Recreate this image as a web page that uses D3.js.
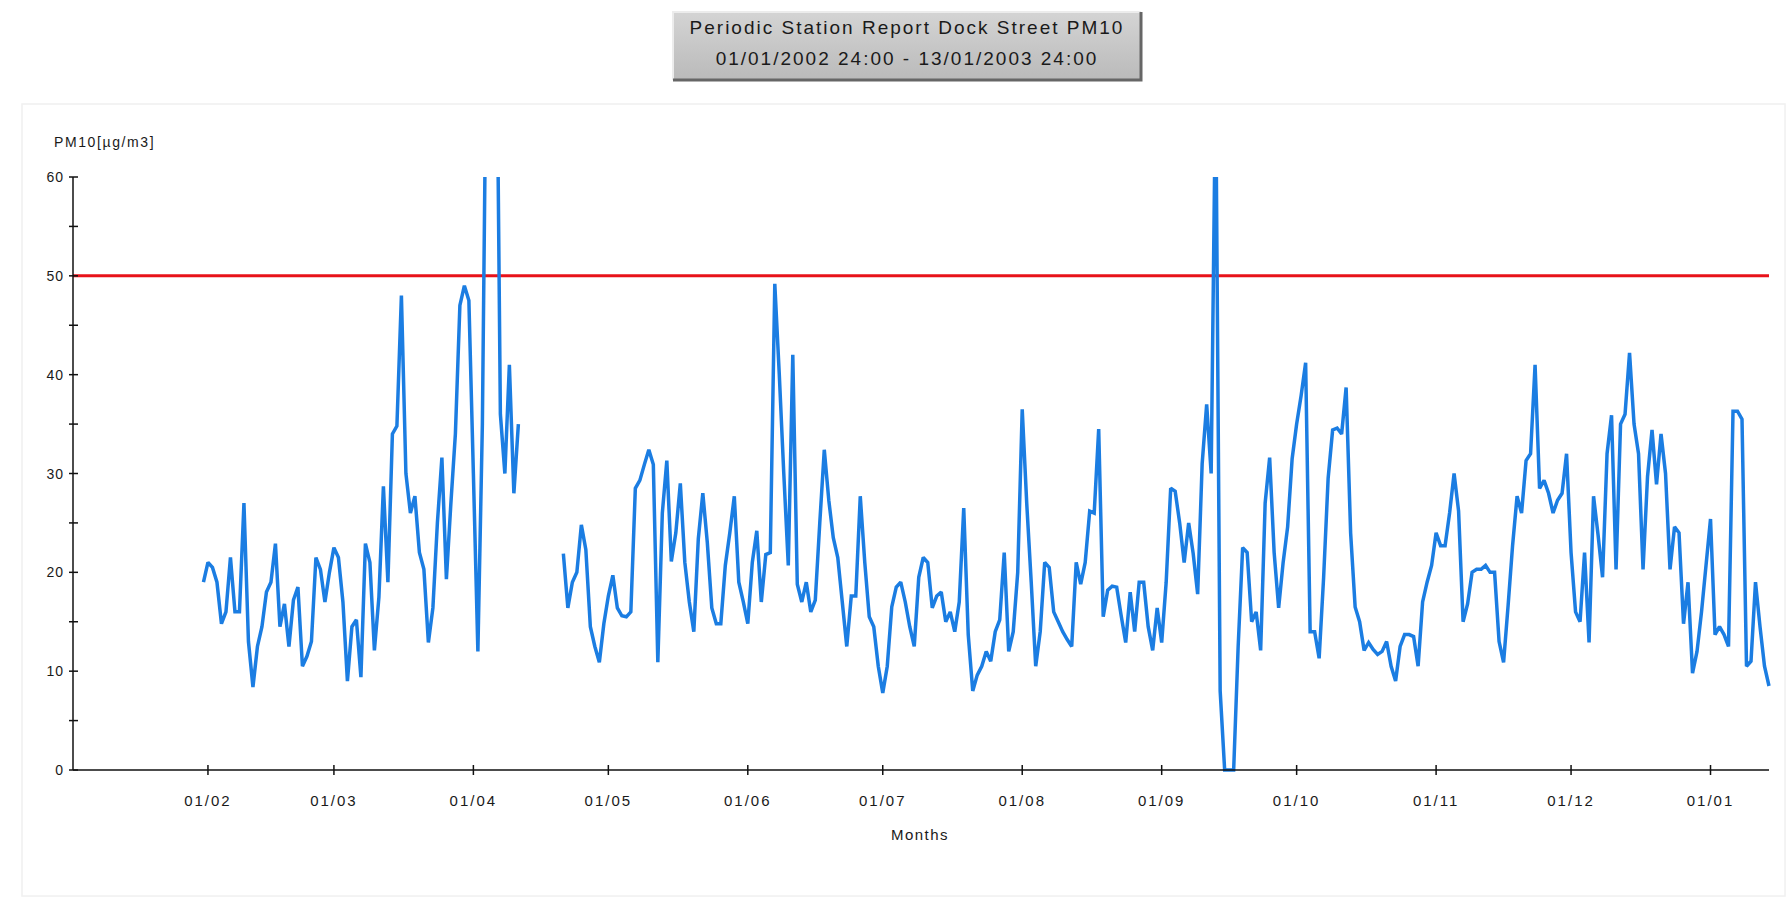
<!DOCTYPE html>
<html>
<head>
<meta charset="utf-8">
<script src="https://cdn.jsdelivr.net/npm/d3@7"></script>
<style>
  html, body { margin: 0; padding: 0; background: #ffffff; }
  svg { display: block; }
  text { font-family: "Liberation Sans", Arial, Helvetica, sans-serif; fill: #1a1a1a; }
</style>
</head>
<body>
<svg id="chart" width="1789" height="911"></svg>
<script>
// Daily mean PM10 at Dock Street, in µg/m3.
// First run of readings starts 31 Jan 2002, the second 21 Apr 2002 (gap in between).
const runStarts = ["2002-01-31", "2002-04-21"];

const pm10RunA = [
  19, 21, 20.5, 19, 14.8, 16, 21.5, 16, 16, 27,
  13, 8.4, 12.5, 14.5, 18, 19, 22.9, 14.5, 16.8, 12.5,
  17.2, 18.5, 10.5, 11.5, 13, 21.5, 20.3, 17, 20, 22.5,
  21.5, 17, 9, 14.5, 15.2, 9.4, 22.9, 21, 12.1, 17.5,
  28.7, 19, 34, 34.8, 48, 30, 26, 27.7, 22, 20.3,
  12.9, 16.4, 25, 31.6, 19.3, 27, 34, 47, 49, 47.5,
  30, 12, 35, 80, 90, 85, 36, 30, 41, 28,
  35
];

const pm10RunB = [
  21.9, 16.4, 19, 20, 24.8, 22.3, 14.5, 12.5, 10.9, 14.8,
  17.6, 19.7, 16.4, 15.6, 15.5, 16, 28.5, 29.3, 30.9, 32.4,
  30.9, 10.9, 26, 31.3, 21.1, 24, 29, 21, 17, 14,
  23.4, 28, 23, 16.4, 14.8, 14.8, 20.7, 24, 27.7, 19,
  17, 14.8, 21, 24.2, 17, 21.8, 22, 49.2, 40, 30,
  20.7, 42, 18.8, 17, 19, 16, 17.2, 25, 32.4, 27.3,
  23.5, 21.5, 17, 12.5, 17.6, 17.6, 27.7, 21, 15.5, 14.5,
  10.5, 7.8, 10.5, 16.5, 18.5, 19, 17, 14.5, 12.5, 19.5,
  21.5, 21, 16.4, 17.6, 18, 15, 16, 14, 17, 26.5,
  13.7, 8, 9.6, 10.5, 12, 11, 14, 15.2, 22, 12,
  14, 20, 36.5, 27, 19, 10.5, 14, 21, 20.5, 16,
  15, 14, 13.2, 12.5, 21, 18.8, 21, 26.2, 26, 34.5,
  15.5, 18.2, 18.6, 18.5, 15.6, 12.9, 18, 14, 19, 19,
  14.5, 12.1, 16.4, 12.9, 19, 28.5, 28.2, 25, 21, 25,
  21.9, 17.8, 31, 37, 30, 70, 8, 0, 0, 0,
  12.5, 22.5, 22, 15, 16, 12.1, 27, 31.6, 22, 16.4,
  21, 24.6, 31.5, 35, 37.9, 41.2, 14, 14, 11.3, 19.5,
  29.5, 34.4, 34.6, 34, 38.7, 24, 16.5, 15, 12.1, 12.9,
  12.2, 11.7, 12, 13, 10.5, 9, 12.5, 13.7, 13.7, 13.5,
  10.5, 17, 19, 20.7, 24, 22.7, 22.7, 26, 30, 26.2,
  15, 16.8, 20, 20.3, 20.3, 20.7, 20, 20, 13, 10.9,
  16.6, 22.7, 27.7, 26, 31.3, 32, 41, 28.5, 29.3, 28,
  26, 27.3, 28, 32, 22, 16, 15, 22, 12.9, 27.7,
  23.8, 19.5, 32, 35.9, 20.3, 35, 36, 42.2, 35, 32,
  20.3, 29.7, 34.4, 28.9, 34, 30, 20.3, 24.6, 24, 14.8,
  19, 9.8, 12, 16, 20.7, 25.4, 13.7, 14.5, 13.7, 12.5,
  36.3, 36.3, 35.5, 10.5, 11, 19, 14.5, 10.5, 8.5
];

const limitValue = 50;                       // daily PM10 limit value
const yTicks = [0, 10, 20, 30, 40, 50, 60];
const yMinorTicks = [5, 15, 25, 35, 45, 55];
const monthTicks = ["2002-02-01", "2002-03-01", "2002-04-01", "2002-05-01", "2002-06-01",
  "2002-07-01", "2002-08-01", "2002-09-01", "2002-10-01", "2002-11-01", "2002-12-01", "2003-01-01"];
const period = ["2002-01-02", "2003-01-14"];   // 01/01/2002 24:00 – 13/01/2003 24:00

const titleLines = ["Periodic Station Report Dock Street PM10", "01/01/2002 24:00 - 13/01/2003 24:00"];
const yLabel = "PM10[µg/m3]";
const xLabel = "Months";

const parse = d3.utcParse("%Y-%m-%d");
const fmtMonth = d3.utcFormat("%d/%m");

const svg = d3.select("#chart");
const W = 1789, H = 911;
const plot = { left: 73, right: 1769, top: 177, bottom: 770 };

const x = d3.scaleUtc().domain(period.map(parse)).range([plot.left, plot.right]);
const y = d3.scaleLinear().domain([0, 60]).range([plot.bottom, plot.top]);

// Build the dated series for each run of readings
const runs = [pm10RunA, pm10RunB].map((vals, i) => {
  const start = parse(runStarts[i]);
  return vals.map((v, k) => ({ date: d3.utcDay.offset(start, k), value: v }));
});

// Faint outer panel
svg.append("rect")
  .attr("x", 22).attr("y", 104).attr("width", W - 26).attr("height", 792)
  .attr("fill", "none").attr("stroke", "#f0f0f0").attr("stroke-width", 1.5);

// Title box with bevelled edges
const defs = svg.append("defs");
const grad = defs.append("linearGradient").attr("id", "titleFill").attr("x1", 0).attr("y1", 0).attr("x2", 0).attr("y2", 1);
grad.append("stop").attr("offset", "0%").attr("stop-color", "#d4d4d4");
grad.append("stop").attr("offset", "100%").attr("stop-color", "#bababa");

const tb = { x: 673, y: 12, w: 468, h: 68 };
const title = svg.append("g");
title.append("rect").attr("x", tb.x).attr("y", tb.y).attr("width", tb.w).attr("height", tb.h)
  .attr("fill", "url(#titleFill)");
title.append("path")
  .attr("d", `M${tb.x},${tb.y + tb.h} L${tb.x},${tb.y} L${tb.x + tb.w},${tb.y}`)
  .attr("fill", "none").attr("stroke", "#ececec").attr("stroke-width", 2);
title.append("path")
  .attr("d", `M${tb.x + tb.w},${tb.y} L${tb.x + tb.w},${tb.y + tb.h} L${tb.x},${tb.y + tb.h}`)
  .attr("fill", "none").attr("stroke", "#666666").attr("stroke-width", 3);
title.selectAll("text.title").data(titleLines).join("text")
  .attr("class", "title")
  .attr("x", tb.x + tb.w / 2)
  .attr("y", (d, i) => tb.y + 22 + i * 31)
  .attr("text-anchor", "middle")
  .style("font-size", "19px")
  .style("letter-spacing", "2px")
  .text(d => d);

// Clip the series at the top of the value range
defs.append("clipPath").attr("id", "plotClip")
  .append("rect").attr("x", plot.left).attr("y", plot.top)
  .attr("width", plot.right - plot.left + 5).attr("height", plot.bottom - plot.top + 10);

// Limit line
svg.append("line")
  .attr("x1", plot.left).attr("x2", plot.right)
  .attr("y1", y(limitValue)).attr("y2", y(limitValue))
  .attr("stroke", "#e8121a").attr("stroke-width", 3);

// PM10 series
const line = d3.line().x(d => x(d.date)).y(d => y(d.value));
svg.append("g").attr("clip-path", "url(#plotClip)")
  .selectAll("path").data(runs).join("path")
  .attr("d", line)
  .attr("fill", "none")
  .attr("stroke", "#1b7de2")
  .attr("stroke-width", 3.5)
  .attr("stroke-linejoin", "miter")
  .attr("stroke-miterlimit", 2);

// Y axis
const yAxis = svg.append("g");
yAxis.append("line").attr("x1", plot.left).attr("x2", plot.left)
  .attr("y1", y(60)).attr("y2", y(0)).attr("stroke", "#111").attr("stroke-width", 1.5);
yAxis.selectAll("line.tick").data(yTicks.concat(yMinorTicks)).join("line")
  .attr("class", "tick")
  .attr("x1", plot.left - 4).attr("x2", plot.left + 5)
  .attr("y1", d => y(d)).attr("y2", d => y(d))
  .attr("stroke", "#111").attr("stroke-width", 1.5);
yAxis.selectAll("text").data(yTicks).join("text")
  .attr("x", plot.left - 9).attr("y", d => y(d) + 5)
  .attr("text-anchor", "end")
  .style("font-size", "14px").style("letter-spacing", "1px")
  .text(d => d);
svg.append("text").attr("x", 54).attr("y", 147)
  .style("font-size", "14px").style("letter-spacing", "1.6px")
  .text(yLabel);

// X axis
const xAxis = svg.append("g");
xAxis.append("line").attr("x1", plot.left).attr("x2", plot.right)
  .attr("y1", plot.bottom).attr("y2", plot.bottom).attr("stroke", "#111").attr("stroke-width", 1.5);
const months = monthTicks.map(parse);
xAxis.selectAll("line.tick").data(months).join("line")
  .attr("class", "tick")
  .attr("x1", d => x(d)).attr("x2", d => x(d))
  .attr("y1", plot.bottom - 5).attr("y2", plot.bottom + 5)
  .attr("stroke", "#111").attr("stroke-width", 1.5);
xAxis.selectAll("text").data(months).join("text")
  .attr("x", d => x(d)).attr("y", plot.bottom + 36)
  .attr("text-anchor", "middle")
  .style("font-size", "15px").style("letter-spacing", "2px")
  .text(d => fmtMonth(d));
svg.append("text").attr("x", 920).attr("y", 840)
  .attr("text-anchor", "middle")
  .style("font-size", "15px").style("letter-spacing", "1.5px")
  .text(xLabel);
</script>
</body>
</html>
